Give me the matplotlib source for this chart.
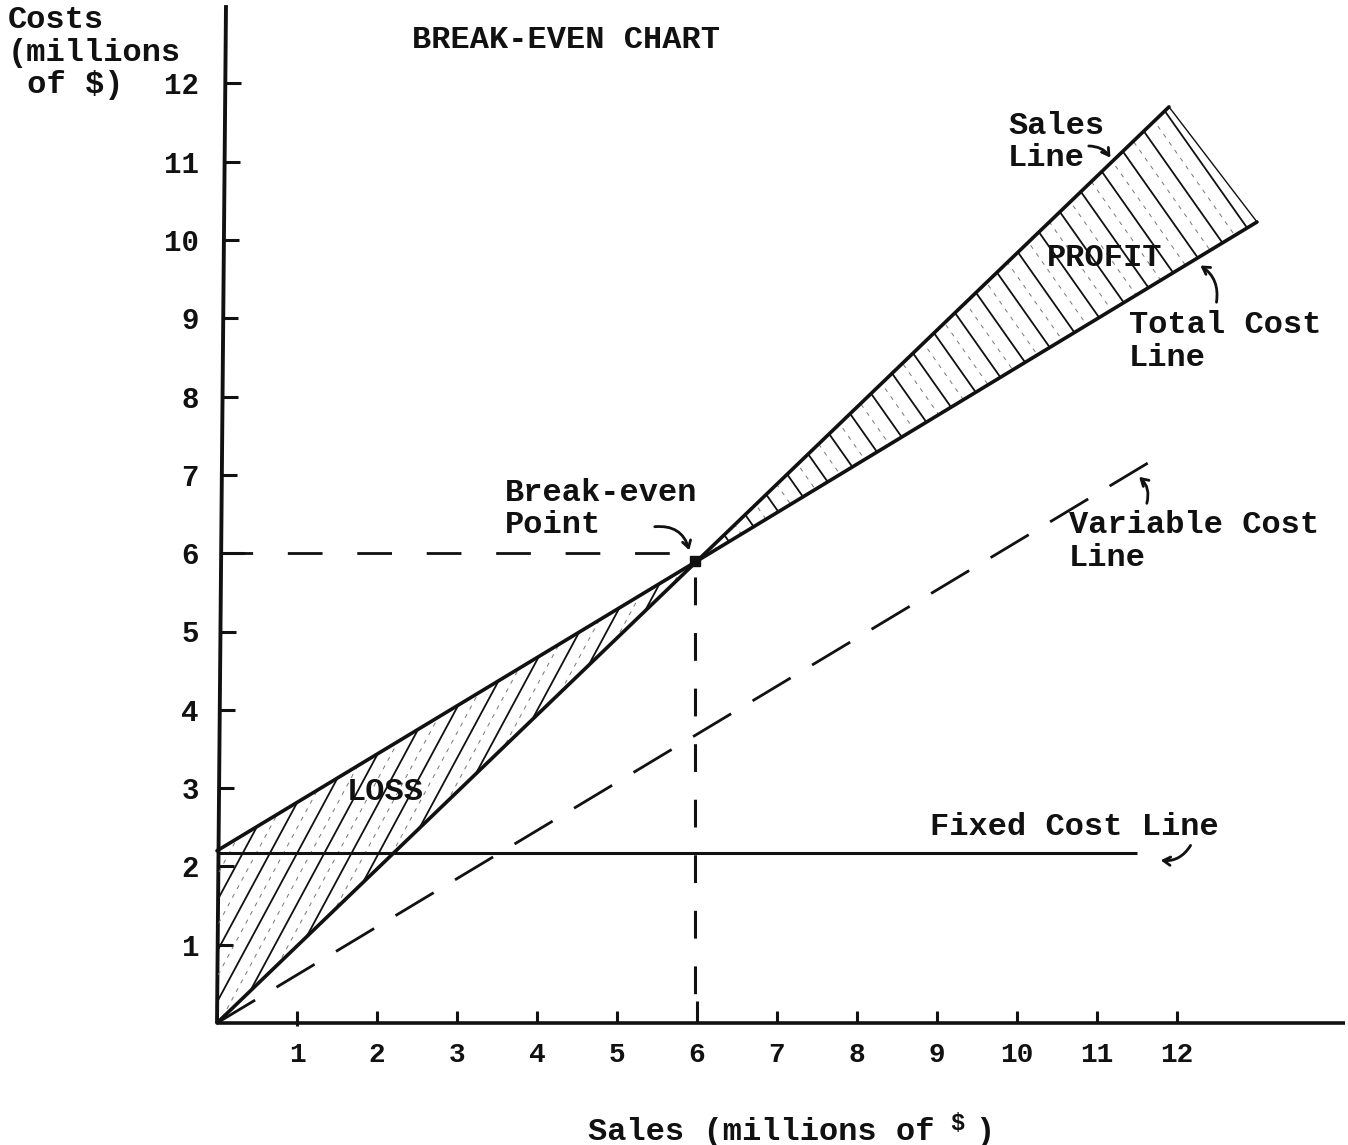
import numpy as np
import matplotlib
matplotlib.use("Agg")
import matplotlib.pyplot as plt
from matplotlib.patches import Polygon

plt.rcParams['lines.scale_dashes'] = False

# ---------------- data ----------------
x_ticks = [1, 2, 3, 4, 5, 6, 7, 8, 9, 10, 11, 12]
y_ticks = [1, 2, 3, 4, 5, 6, 7, 8, 9, 10, 11, 12]
x_tick_labels = [str(v) for v in x_ticks]
y_tick_labels = [str(v) for v in y_ticks]

sales_x = [0.0, 6.0, 11.9]
sales_y = [0.0, 5.9, 11.7]

total_x = [0.0, 6.0, 13.0]
total_y = [2.2, 5.9, 10.23]

variable_x = [0.0, 11.65]
variable_y = [0.0, 7.16]

fixed_x = [0.0, 11.5]
fixed_y = [2.17, 2.17]

breakeven_x = 5.97
breakeven_y = 5.9
breakeven_level = 6.0
breakeven_sales = 6.0

# ---------------- figure ----------------
W, H = 1348, 1145
fig = plt.figure(figsize=(W / 100, H / 100), dpi=100)
ax = fig.add_axes([0, 0, 1, 1])
X0, Y0, SX, SY = 217, 1023, 80.0, 78.3
ax.set_xlim(-X0 / SX, (W - X0) / SX)
ax.set_ylim(-(H - Y0) / SY, Y0 / SY)
ax.axis('off')

INK = '#111111'
MONO = ['Liberation Mono', 'DejaVu Sans Mono']
FS = 23


def ftext(xp, yp, s, size=FS, weight='bold', family=MONO, ha='left', va='center', **kw):
    fig.text(xp / W, 1 - yp / H, s, fontsize=size, fontweight=weight,
             family=family, ha=ha, va=va, color=INK, **kw)


# axes
ytop = 13.0
slant = 9 / SX
ax.plot([0, slant], [0, ytop], color=INK, lw=2.8, solid_capstyle='butt')
ax.plot([0, 14.1], [0, 0], color=INK, lw=2.6, solid_capstyle='butt')

# y ticks
for v, lab in zip(y_ticks, y_tick_labels):
    xa = slant * v / ytop
    ln = 0.3 if v == 6 else 0.19
    ax.plot([xa, xa + ln], [v, v], color=INK, lw=2.2, solid_capstyle='butt')
    ftext(199, Y0 - v * SY + 3, lab, size=21, weight='bold', ha='right')

# x ticks
for v, lab in zip(x_ticks, x_tick_labels):
    top = 0.28 if v == 6 else 0.15
    ax.plot([v, v], [-0.04 if v == 1 else 0, top], color=INK, lw=2.2, solid_capstyle='butt')
    ftext(X0 + v * SX, 1055, lab, size=20, weight='bold', ha='center')

# ---------------- hatching ----------------
def hatch_region(px, py, slope, step, start, stop, **kw):
    poly = Polygon(np.column_stack([px, py]), closed=True, fill=False, lw=0,
                   transform=ax.transData)
    ax.add_patch(poly)
    xs = np.array([-5.0, 20.0])
    for c in np.arange(start, stop, step):
        l, = ax.plot(xs, slope * (xs - c), **kw)
        l.set_clip_path(poly)


# loss region: between total cost (top) and sales (bottom), x 0..6
xl = np.linspace(0, breakeven_x, 30)
loss_top = np.interp(xl, total_x, total_y)
loss_bot = np.interp(xl, sales_x, sales_y)
lpx = np.concatenate([xl, xl[::-1]])
lpy = np.concatenate([loss_top, loss_bot[::-1]])
hatch_region(lpx, lpy, 1.9, 0.34, -1.5, 6.5, color=INK, lw=1.3)
hatch_region(lpx, lpy, 1.9, 0.34, -1.33, 6.5, color='#777777', lw=0.7, ls=(0, (3, 4)))

# profit region: between sales (top) and total cost (bottom)
xs1 = np.linspace(breakeven_x, sales_x[-1], 30)
xs2 = np.linspace(breakeven_x, total_x[-1], 30)
ppx = np.concatenate([xs1, xs2[::-1]])
ppy = np.concatenate([np.interp(xs1, sales_x, sales_y),
                      np.interp(xs2, total_x, total_y)[::-1]])
hatch_region(ppx, ppy, -1.45, 0.44, 8.0, 22.0, color=INK, lw=1.3)
hatch_region(ppx, ppy, -1.45, 0.44, 8.22, 22.0, color='#777777', lw=0.7, ls=(0, (3, 4)))
ax.plot([sales_x[-1], total_x[-1]], [sales_y[-1], total_y[-1]], color=INK, lw=1.0)

# ---------------- lines ----------------
ax.plot(sales_x, sales_y, color=INK, lw=2.6, solid_capstyle='round')
ax.plot(total_x, total_y, color=INK, lw=2.6, solid_capstyle='round')
ax.plot(fixed_x, fixed_y, color=INK, lw=2.2, solid_capstyle='butt')
ax.plot(variable_x, variable_y, color=INK, lw=2.0, ls=(0, (32, 18)))

# break-even guides
ax.plot([0.15, breakeven_x - 0.1], [breakeven_level, breakeven_level], color=INK,
        lw=2.0, ls=(8, (25, 25)))
ax.plot([breakeven_sales - 0.03, breakeven_sales - 0.03], [breakeven_y - 0.2, 0.3],
        color=INK, lw=2.2, ls=(0, (20, 20)))
ax.plot([breakeven_x], [breakeven_y], marker='s', ms=7, color=INK)

# ---------------- texts ----------------
ftext(8, 20, "Costs")
ftext(8, 53, "(millions")
ftext(8, 85, " of $)")
ftext(412, 40, "BREAK-EVEN CHART")
ftext(1008, 126, "Sales")
ftext(1008, 158, "Line")
ftext(1047, 258, "PROFIT")
ftext(1129, 325, "Total Cost")
ftext(1129, 358, "Line")
ftext(505, 493, "Break-even")
ftext(505, 525, "Point")
ftext(1069, 525, "Variable Cost")
ftext(1069, 558, "Line")
ftext(347, 792, "LOSS")
ftext(930, 827, "Fixed Cost Line")
ftext(588, 1132, "Sales (millions of")
ftext(957, 1124, "$", size=17, ha='center')
ftext(975, 1132, ")")


def arrow(tail, head, rad):
    ax.annotate('', xy=(head[0], H - head[1]), xycoords='figure pixels',
                xytext=(tail[0], H - tail[1]), textcoords='figure pixels',
                arrowprops=dict(arrowstyle='->,head_length=0.5,head_width=0.3',
                                color=INK, lw=2.0,
                                connectionstyle=f'arc3,rad={rad}'))


arrow((1086, 146), (1112, 160), -0.3)
arrow((1216, 305), (1198, 264), 0.35)
arrow((652, 527), (690, 553), -0.45)
arrow((1146, 506), (1137, 475), 0.35)
arrow((1192, 843), (1158, 860), -0.35)

fig.savefig('out.png', dpi=100)
